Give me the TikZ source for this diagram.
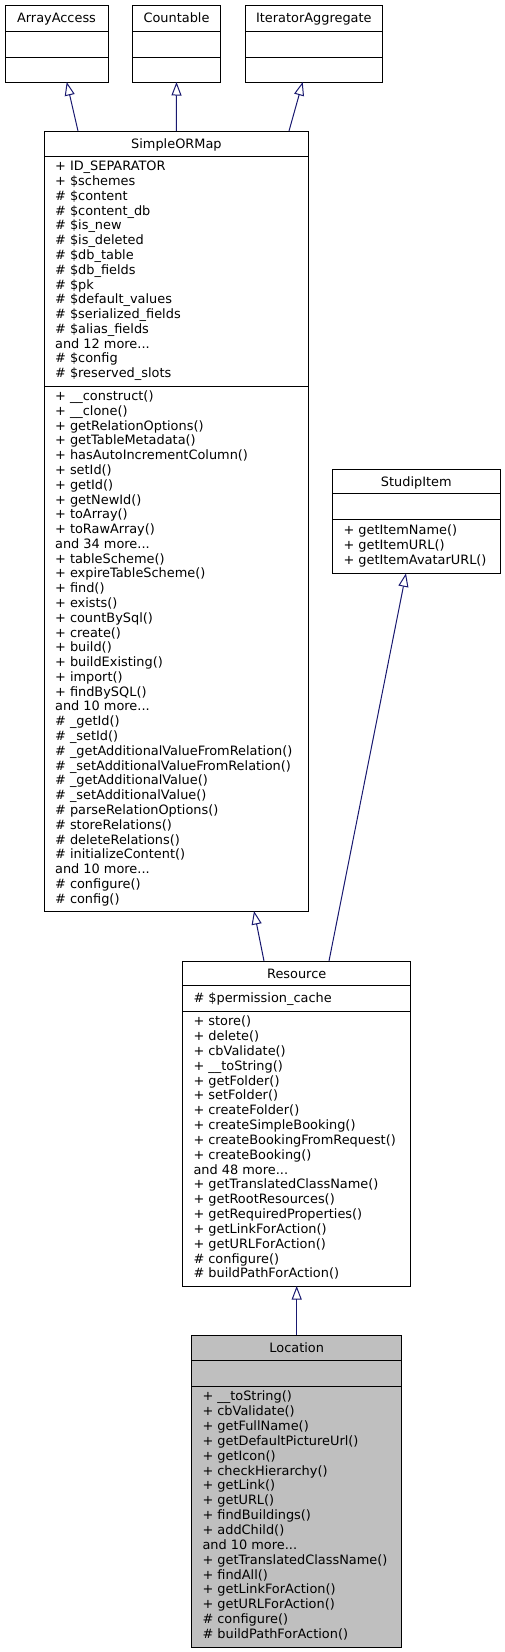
\documentclass[tikz,border=0pt]{standalone}
\usepackage{fontspec}
\setmainfont{DejaVu Sans}
\usetikzlibrary{arrows.meta}
\definecolor{edgeblue}{HTML}{191970}
\definecolor{curfill}{HTML}{BFBFBF}
\newcommand\mydots{...}
\tikzset{
  box/.style={draw=black, line width=1pt, rectangle, inner sep=0pt, outer sep=0pt},
  sep/.style={draw=black, line width=1pt},
  txt/.style={anchor=base west, inner sep=0pt, outer sep=0pt, font=\fontsize{12.9}{14.8}\selectfont},
  hdr/.style={anchor=base, inner sep=0pt, outer sep=0pt, font=\fontsize{12.9}{14.8}\selectfont},
  inh/.style={draw=edgeblue, line width=1pt, -{Triangle[open,length=13.5pt,width=10pt]}},
}
% #1 name prefix, #2 x, #3 first baseline y, #4 spacing, #5 lines
\newcommand\seclines[5]{%
  \foreach \lbltext [count=\i from 0] in {#5} {%
    \node[txt] (#1-\i) at (#2,{#3+#4*\i}) {\lbltext};}%
}
\begin{document}
\begin{tikzpicture}[x=1pt,y=-1pt]
\useasboundingbox (0,0) rectangle (505,1652);

% ---------- ArrayAccess ----------
\node[box, minimum width=103pt, minimum height=76.3pt] (aa) at (56.5,43.85) {};
\draw[sep] (aa.west |- 0,31) -- (aa.east |- 0,31);
\draw[sep] (aa.west |- 0,57) -- (aa.east |- 0,57);
\node[hdr] (aa-h) at (56.5,22.9) {ArrayAccess};

% ---------- Countable ----------
\node[box, minimum width=88.4pt, minimum height=76.3pt] (ct) at (176.5,43.85) {};
\draw[sep] (ct.west |- 0,31) -- (ct.east |- 0,31);
\draw[sep] (ct.west |- 0,57) -- (ct.east |- 0,57);
\node[hdr] (ct-h) at (176.5,22.9) {Countable};

% ---------- IteratorAggregate ----------
\node[box, minimum width=137.7pt, minimum height=76.3pt] (ia) at (313.85,43.85) {};
\draw[sep] (ia.west |- 0,31) -- (ia.east |- 0,31);
\draw[sep] (ia.west |- 0,57) -- (ia.east |- 0,57);
\node[hdr] (ia-h) at (313.85,22.9) {IteratorAggregate};

% ---------- SimpleORMap ----------
\node[box, minimum width=264.2pt, minimum height=780pt] (som) at (176.4,521) {};
\draw[sep] (som.west |- 0,156) -- (som.east |- 0,156);
\draw[sep] (som.west |- 0,386) -- (som.east |- 0,386);
\node[hdr] (som-h) at (176.4,148) {SimpleORMap};
\seclines{soma}{55.1}{170.8}{14.78}{+ ID\_SEPARATOR,+ \$schemes,\# \$content,\# \$content\_db,\# \$is\_new,\# \$is\_deleted,\# \$db\_table,\# \$db\_fields,\# \$pk,\# \$default\_values,\# \$serialized\_fields,\# \$alias\_fields,and 12 more\mydots,\# \$config,\# \$reserved\_slots}
\seclines{somm}{55.1}{400.6}{14.78}{+ \_\_construct(),+ \_\_clone(),+ getRelationOptions(),+ getTableMetadata(),+ hasAutoIncrementColumn(),+ setId(),+ getId(),+ getNewId(),+ toArray(),+ toRawArray(),and 34 more\mydots,+ tableScheme(),+ expireTableScheme(),+ find(),+ exists(),+ countBySql(),+ create(),+ build(),+ buildExisting(),+ import(),+ findBySQL(),and 10 more\mydots,\# \_getId(),\# \_setId(),\# \_getAdditionalValueFromRelation(),\# \_setAdditionalValueFromRelation(),\# \_getAdditionalValue(),\# \_setAdditionalValue(),\# parseRelationOptions(),\# storeRelations(),\# deleteRelations(),\# initializeContent(),and 10 more\mydots,\# configure(),\# config()}

% ---------- StudipItem ----------
\node[box, minimum width=167.3pt, minimum height=104.3pt] (si) at (416.35,521.15) {};
\draw[sep] (si.west |- 0,493) -- (si.east |- 0,493);
\draw[sep] (si.west |- 0,519) -- (si.east |- 0,519);
\node[hdr] (si-h) at (416.35,486) {StudipItem};
\seclines{sim}{343.5}{534.5}{14.83}{+ getItemName(),+ getItemURL(),+ getItemAvatarURL()}

% ---------- Resource ----------
\node[box, minimum width=228pt, minimum height=325pt] (res) at (296.7,1123.5) {};
\draw[sep] (res.west |- 0,985) -- (res.east |- 0,985);
\draw[sep] (res.west |- 0,1011) -- (res.east |- 0,1011);
\node[hdr] (res-h) at (296.7,978) {Resource};
\node[txt] (res-a) at (193.5,1002.5) {\# \$permission\_cache};
\seclines{resm}{193.5}{1025.8}{14.83}{+ store(),+ delete(),+ cbValidate(),+ \_\_toString(),+ getFolder(),+ setFolder(),+ createFolder(),+ createSimpleBooking(),+ createBookingFromRequest(),+ createBooking(),and 48 more\mydots,+ getTranslatedClassName(),+ getRootResources(),+ getRequiredProperties(),+ getLinkForAction(),+ getURLForAction(),\# configure(),\# buildPathForAction()}

% ---------- Location ----------
\node[box, fill=curfill, minimum width=210pt, minimum height=312pt] (loc) at (296.7,1491) {};
\draw[sep] (loc.west |- 0,1360) -- (loc.east |- 0,1360);
\draw[sep] (loc.west |- 0,1386) -- (loc.east |- 0,1386);
\node[hdr] (loc-h) at (296.7,1352) {Location};
\seclines{locm}{202.5}{1400.8}{14.85}{+ \_\_toString(),+ cbValidate(),+ getFullName(),+ getDefaultPictureUrl(),+ getIcon(),+ checkHierarchy(),+ getLink(),+ getURL(),+ findBuildings(),+ addChild(),and 10 more\mydots,+ getTranslatedClassName(),+ findAll(),+ getLinkForAction(),+ getURLForAction(),\# configure(),\# buildPathForAction()}

% ---------- inheritance connectors ----------
\draw[inh] ([xshift=-98.4pt]som.north) -- ([xshift=10.2pt]aa.south);
\draw[inh] (som.north) -- (ct.south);
\draw[inh] ([xshift=112.6pt]som.north) -- ([xshift=-11.15pt]ia.south);
\draw[inh] ([xshift=-32.7pt]res.north) -- ([xshift=77.6pt]som.south);
\draw[inh] ([xshift=32.3pt]res.north) -- ([xshift=-10.35pt]si.south);
\draw[inh] (loc.north) -- (res.south);
\end{tikzpicture}
\end{document}
